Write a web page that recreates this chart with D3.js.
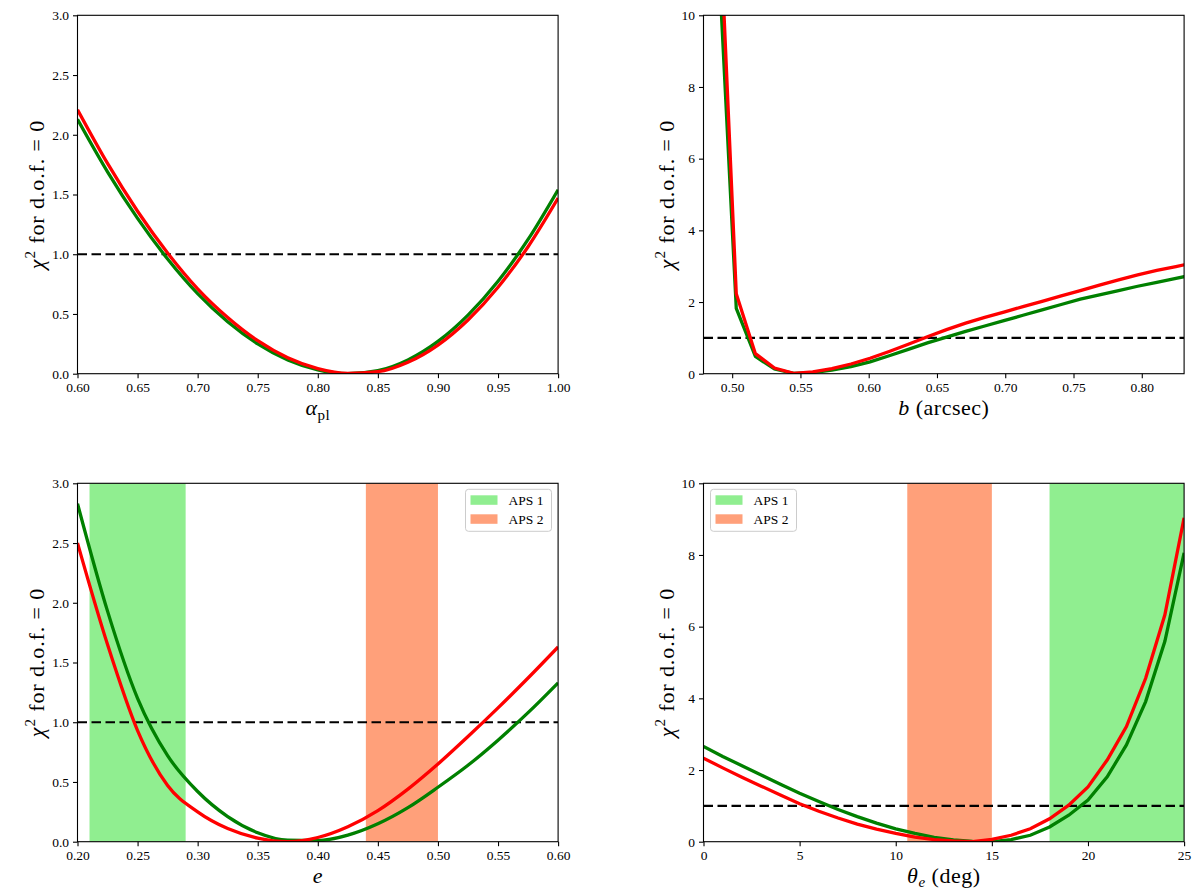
<!DOCTYPE html>
<html>
<head>
<meta charset="utf-8">
<script src="https://cdn.jsdelivr.net/npm/d3@7"></script>
<style>
  body { margin: 0; background: #fff; }
  svg text { font-family: "Liberation Serif", "Times New Roman", "DejaVu Serif", serif; fill: #000; }
</style>
</head>
<body>
<div id="chart"></div>
<script>
// ---- data ----
// panel 1: alpha_pl
const alphaX     = [0.600, 0.625, 0.650, 0.675, 0.700, 0.725, 0.750, 0.775, 0.800, 0.825, 0.850, 0.875, 0.900, 0.925, 0.950, 0.975, 1.000];
const alphaGreen = [2.13, 1.69, 1.30, 0.96, 0.67, 0.435, 0.25, 0.115, 0.032, 0.0, 0.025, 0.115, 0.27, 0.49, 0.774, 1.124, 1.54];
const alphaRed   = [2.21, 1.76, 1.36, 1.01, 0.71, 0.47, 0.276, 0.133, 0.042, 0.002, 0.017, 0.096, 0.24, 0.45, 0.724, 1.063, 1.47];

// panel 2: b (arcsec), coarse grid
const bX     = [0.489, 0.503, 0.517, 0.531, 0.545, 0.559, 0.573, 0.587, 0.601, 0.615, 0.629, 0.643, 0.657,
                0.671, 0.685, 0.699, 0.713, 0.727, 0.741, 0.755, 0.769, 0.783, 0.797, 0.811, 0.825, 0.839];
const bGreen = [12.4, 1.82, 0.48, 0.13, 0.01, 0.03, 0.10, 0.20, 0.33, 0.50, 0.68, 0.86, 1.02,
                1.18, 1.33, 1.48, 1.63, 1.78, 1.93, 2.08, 2.20, 2.32, 2.44, 2.55, 2.66, 2.77];
const bRed   = [14.4, 2.23, 0.56, 0.16, 0.01, 0.05, 0.14, 0.27, 0.43, 0.62, 0.82, 1.03, 1.23,
                1.41, 1.57, 1.72, 1.87, 2.02, 2.17, 2.32, 2.47, 2.62, 2.76, 2.88, 2.99, 3.10];

// panel 3: e
const eX     = [0.200, 0.225, 0.250, 0.275, 0.300, 0.325, 0.350, 0.375, 0.400, 0.425, 0.450, 0.475, 0.500, 0.525, 0.550, 0.575, 0.600];
const eGreen = [2.83, 1.93, 1.20, 0.72, 0.42, 0.21, 0.075, 0.012, 0.009, 0.055, 0.15, 0.285, 0.456, 0.64, 0.85, 1.08, 1.33];
const eRed   = [2.50, 1.65, 0.93, 0.47, 0.25, 0.11, 0.03, 0.0, 0.035, 0.125, 0.26, 0.44, 0.65, 0.88, 1.12, 1.37, 1.63];
const eBands = [[0.21, 0.29], [0.44, 0.50]];

// panel 4: theta_e (deg)
const thX     = [0, 1, 2, 3, 4, 5, 6, 7, 8, 9, 10, 11, 12, 13, 14, 15, 16, 17, 18, 19, 20, 21, 22, 23, 24, 25];
const thGreen = [2.66, 2.38, 2.12, 1.86, 1.60, 1.35, 1.12, 0.90, 0.70, 0.52, 0.36, 0.23, 0.12, 0.05, 0.01, 0.0,
                 0.06, 0.18, 0.41, 0.74, 1.16, 1.81, 2.70, 3.91, 5.59, 8.06];
const thRed   = [2.33, 2.06, 1.80, 1.55, 1.30, 1.06, 0.85, 0.66, 0.49, 0.35, 0.23, 0.13, 0.06, 0.02, 0.0, 0.065,
                 0.18, 0.36, 0.64, 1.02, 1.53, 2.28, 3.21, 4.56, 6.33, 9.04];
const thBands = [[18, 25], [10.6, 15]];

const bandNames  = ["APS 1", "APS 2"];
const bandColors = ["#90ee90", "#ffa07a"];

// ---- layout ----
const W = 1200, H = 892;
const colLeft = [77.5, 703.5], colW = 480.6;
const rowTop = [15.3, 483.3], rowH = 358.4;
const serif = "'Liberation Serif', 'Times New Roman', 'DejaVu Serif', serif";

const svg = d3.select("#chart").append("svg")
    .attr("width", W)
    .attr("height", H)
    .attr("font-family", serif);

function drawPanel(p, idx) {
    const x0 = colLeft[p.col], y0 = rowTop[p.row];
    const g = svg.append("g").attr("transform", `translate(${x0},${y0})`);

    const x = d3.scaleLinear().domain(p.xDomain).range([0, colW]);
    const y = d3.scaleLinear().domain(p.yDomain).range([rowH, 0]);

    const clipId = "clip" + idx;
    g.append("clipPath").attr("id", clipId)
        .append("rect").attr("width", colW).attr("height", rowH);

    const plot = g.append("g").attr("clip-path", `url(#${clipId})`);

    // shaded ranges
    if (p.bands) {
        plot.selectAll("rect.band")
            .data(p.bands)
            .enter().append("rect")
            .attr("class", "band")
            .attr("x", d => x(d[0]))
            .attr("width", d => x(d[1]) - x(d[0]))
            .attr("y", 0)
            .attr("height", rowH)
            .attr("fill", (d, i) => bandColors[i]);
    }

    // dashed reference at chi2 = 1
    plot.append("line")
        .attr("x1", 0).attr("x2", colW)
        .attr("y1", y(1)).attr("y2", y(1))
        .attr("stroke", "#000")
        .attr("stroke-width", 2.2)
        .attr("stroke-dasharray", "9.5,4.5");

    const line = (ys) => d3.line()
        .x((d, i) => x(p.xs[i]))
        .y(d => y(d))
        .curve(p.curve)(ys);

    plot.append("path").attr("d", line(p.green))
        .attr("fill", "none").attr("stroke", "#008000").attr("stroke-width", 3.3);
    plot.append("path").attr("d", line(p.red))
        .attr("fill", "none").attr("stroke", "#ff0000").attr("stroke-width", 3.3);

    // axes
    const xAxis = g.append("g").attr("transform", `translate(0,${rowH})`)
        .call(d3.axisBottom(x).tickValues(p.xTicks).tickFormat(d3.format(p.xFmt))
            .tickSize(4.5).tickPadding(4).tickSizeOuter(0));
    const yAxis = g.append("g")
        .call(d3.axisLeft(y).tickValues(p.yTicks).tickFormat(d3.format(p.yFmt))
            .tickSize(4.5).tickPadding(4).tickSizeOuter(0));
    [xAxis, yAxis].forEach(a => {
        a.attr("font-family", serif);
        a.select(".domain").remove();
        a.selectAll("line").attr("stroke", "#000").attr("stroke-width", 1.1);
        a.selectAll("text").style("font-size", "13.5px").style("font-family", serif);
    });

    // frame
    g.append("rect").attr("width", colW).attr("height", rowH)
        .attr("fill", "none").attr("stroke", "#000").attr("stroke-width", 1.1);

    // y label
    const yl = g.append("text")
        .attr("transform", `translate(${-p.yLabelOff},${rowH / 2}) rotate(-90)`)
        .attr("text-anchor", "middle")
        .style("font-size", "22px")
        .style("letter-spacing", "0.9px");
    yl.append("tspan").text("χ").style("font-style", "italic");
    yl.append("tspan").text("2").attr("dy", -9).style("font-size", "15px");
    yl.append("tspan").text(" for d.o.f. = 0").attr("dy", 9);

    // x label
    const xl = g.append("text")
        .attr("x", colW / 2).attr("y", rowH + 41)
        .attr("text-anchor", "middle")
        .style("font-size", "22px")
        .style("letter-spacing", "0.5px");
    p.xLabel.forEach(t => {
        const ts = xl.append("tspan").text(t.s);
        if (t.it) ts.style("font-style", "italic");
        if (t.sub) ts.attr("dy", t.sub).style("font-size", "15px");
        if (t.back) ts.attr("dy", t.back);
    });

    // legend
    if (p.legendX !== undefined) {
        const lg = g.append("g").attr("transform", `translate(${p.legendX},6)`);
        lg.append("rect").attr("width", 86).attr("height", 42)
            .attr("rx", 3).attr("fill", "#fff").attr("fill-opacity", 0.8)
            .attr("stroke", "#cccccc").attr("stroke-width", 1);
        bandNames.forEach((n, i) => {
            lg.append("rect").attr("x", 5).attr("y", 6 + i * 19)
                .attr("width", 27).attr("height", 9.5).attr("fill", bandColors[i]);
            lg.append("text").attr("x", 43).attr("y", 11 + i * 19)
                .attr("dy", "0.35em").style("font-size", "13.5px").text(n);
        });
    }
}

const panels = [
    { col: 0, row: 0, xs: alphaX, green: alphaGreen, red: alphaRed, curve: d3.curveMonotoneX,
      xDomain: [0.6, 1.0], yDomain: [0, 3],
      xTicks: d3.range(0, 9).map(i => 0.6 + i * 0.05), xFmt: ".2f",
      yTicks: d3.range(0, 7).map(i => i * 0.5), yFmt: ".1f",
      yLabelOff: 34,
      xLabel: [{ s: "α", it: true }, { s: "pl", sub: 5 }] },
    { col: 1, row: 0, xs: bX, green: bGreen, red: bRed, curve: d3.curveLinear,
      xDomain: [0.479, 0.831], yDomain: [0, 10],
      xTicks: d3.range(0, 7).map(i => 0.5 + i * 0.05), xFmt: ".2f",
      yTicks: d3.range(0, 6).map(i => i * 2), yFmt: "d",
      yLabelOff: 30,
      xLabel: [{ s: "b", it: true }, { s: " (arcsec)" }] },
    { col: 0, row: 1, xs: eX, green: eGreen, red: eRed, curve: d3.curveMonotoneX,
      xDomain: [0.2, 0.6], yDomain: [0, 3], bands: eBands, legendX: 388,
      xTicks: d3.range(0, 9).map(i => 0.2 + i * 0.05), xFmt: ".2f",
      yTicks: d3.range(0, 7).map(i => i * 0.5), yFmt: ".1f",
      yLabelOff: 34,
      xLabel: [{ s: "e", it: true }] },
    { col: 1, row: 1, xs: thX, green: thGreen, red: thRed, curve: d3.curveLinear,
      xDomain: [0, 25], yDomain: [0, 10], bands: thBands, legendX: 7,
      xTicks: d3.range(0, 6).map(i => i * 5), xFmt: "d",
      yTicks: d3.range(0, 6).map(i => i * 2), yFmt: "d",
      yLabelOff: 30,
      xLabel: [{ s: "θ", it: true }, { s: "e", it: true, sub: 4 }, { s: " (deg)", back: -4 }] }
];

panels.forEach(drawPanel);
</script>
</body>
</html>
